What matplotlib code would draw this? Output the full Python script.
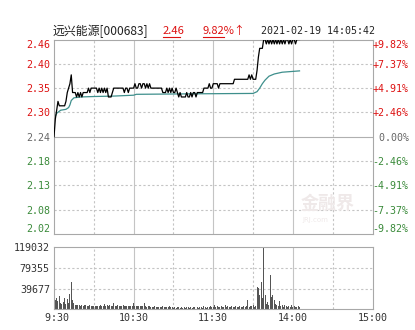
import numpy as np
import matplotlib.pyplot as plt
from matplotlib.lines import Line2D

plt.rcParams["font.family"] = ["DejaVu Sans Mono", "Noto Sans CJK SC"]

# ---- data ----
prev_close = 2.24
price_ticks = ["2.02", "2.08", "2.13", "2.18", "2.24", "2.30", "2.35", "2.40", "2.46"]
pct_ticks = ["-9.82%", "-7.37%", "-4.91%", "-2.46%", " 0.00%", "+2.46%", "+4.91%", "+7.37%", "+9.82%"]
time_labels = [" 9:30", "10:30", "11:30", "14:00", "15:00"]
vol_ticks = [39677, 79355, 119032]

# minute-by-minute last price (minute 0 = 9:30, 120 = 13:00)
price = [
    2.24, 2.28, 2.30, 2.32, 2.31, 2.31, 2.31, 2.31, 2.31, 2.32,
    2.34, 2.35, 2.36, 2.38, 2.34, 2.34, 2.34, 2.33, 2.34, 2.33,
    2.34, 2.33, 2.34, 2.34, 2.34, 2.34, 2.35, 2.34, 2.35, 2.35,
    2.35, 2.35, 2.35, 2.34, 2.35, 2.34, 2.35, 2.34, 2.35, 2.34,
    2.35, 2.33, 2.33, 2.33, 2.34, 2.35, 2.35, 2.35, 2.35, 2.35,
    2.35, 2.35, 2.35, 2.34, 2.35, 2.35, 2.34, 2.35, 2.35, 2.35,
    2.35, 2.36, 2.35, 2.35, 2.36, 2.36, 2.35, 2.36, 2.36, 2.35,
    2.36, 2.35, 2.36, 2.35, 2.35, 2.35, 2.35, 2.35, 2.35, 2.35,
    2.35, 2.35, 2.34, 2.34, 2.34, 2.35, 2.34, 2.35, 2.34, 2.35,
    2.34, 2.34, 2.35, 2.34, 2.33, 2.34, 2.33, 2.33, 2.33, 2.33,
    2.34, 2.33, 2.33, 2.34, 2.33, 2.34, 2.34, 2.33, 2.34, 2.34,
    2.34, 2.34, 2.34, 2.35, 2.35, 2.35, 2.35, 2.36, 2.35, 2.35,
    2.36, 2.36, 2.36, 2.36, 2.35, 2.36, 2.36, 2.36, 2.36, 2.36,
    2.36, 2.36, 2.36, 2.36, 2.36, 2.36, 2.37, 2.37, 2.37, 2.37,
    2.37, 2.37, 2.37, 2.37, 2.37, 2.37, 2.37, 2.38, 2.37, 2.38,
    2.37, 2.37, 2.37, 2.39, 2.42, 2.44, 2.44, 2.44, 2.46, 2.46,
    2.45, 2.46, 2.45, 2.46, 2.45, 2.46, 2.45, 2.46, 2.45, 2.46,
    2.45, 2.46, 2.45, 2.46, 2.45, 2.46, 2.46, 2.45, 2.46, 2.45,
    2.46, 2.46, 2.45, 2.46, 2.46, 2.46,
]

# average price line (minute, value)
avg_minutes = [0, 2, 5, 9, 11, 12, 13, 15, 20, 30, 45, 60, 62, 100, 150,
               153, 155, 157, 159, 162, 166, 172, 185]
avg_price = [2.280, 2.293, 2.300, 2.302, 2.306, 2.312, 2.322, 2.328, 2.330,
             2.331, 2.332, 2.334, 2.336, 2.337, 2.338, 2.342, 2.350, 2.360,
             2.368, 2.377, 2.382, 2.386, 2.389]

volume = [
    29000, 17000, 22000, 15000, 25000, 12000, 10000, 14000, 22000, 11000,
    19000, 12000, 30000, 53000, 18000, 12000, 8000, 9000, 9000, 8000,
    7000, 9000, 7000, 8000, 9000, 7000, 6000, 8000, 7000, 6000,
    7000, 6000, 6000, 7000, 6000, 8000, 6000, 7000, 10000, 6000,
    8000, 7000, 9000, 7000, 6000, 13000, 7000, 6000, 8000, 6000,
    7000, 6000, 8000, 6000, 7000, 6000, 6000, 7000, 6000, 6000,
    12000, 7000, 6000, 6000, 7000, 6000, 6000, 6000, 13000, 6000,
    5000, 6000, 7000, 5000, 4000, 5000, 6000, 5000, 4000, 5000,
    4000, 5000, 6000, 4000, 5000, 4000, 5000, 6000, 4000, 5000,
    3000, 4000, 3000, 4000, 5000, 3000, 4000, 3000, 4000, 3000,
    4000, 5000, 3000, 4000, 3000, 4000, 5000, 3000, 4000, 3000,
    4000, 5000, 3000, 7000, 4000, 3000, 5000, 4000, 6000, 4000,
    5000, 8000, 4000, 6000, 5000, 4000, 7000, 5000, 4000, 9000,
    5000, 6000, 4000, 5000, 6000, 5000, 4000, 6000, 5000, 4000,
    6000, 5000, 4000, 6000, 5000, 6000, 18000, 5000, 6000, 7000,
    8000, 5000, 6000, 42000, 41000, 27000, 53000, 22000, 119032, 27000,
    10000, 14000, 8000, 66000, 24000, 27000, 17000, 11000, 8000, 6000,
    15000, 6000, 8000, 5000, 9000, 6000, 4000, 7000, 5000, 8000,
    4000, 6000, 5000, 4000, 7000, 5000,
]

RED = "#dd1111"
GREEN = "#3a8a3a"
GRAY = "#666666"
GRID = "#c4c4c4"
W, H = 415, 330

fig = plt.figure(figsize=(4.15, 3.3), dpi=100, facecolor="white")
ax = fig.add_axes([54 / W, 1 - 234 / H, 318.5 / W, 194.5 / H])
axv = fig.add_axes([54 / W, 1 - 309.3 / H, 318.5 / W, 62 / H])

span = 0.22
levels = np.linspace(prev_close - span, prev_close + span, 9)

for a in (ax, axv):
    a.set_xlim(0, 240)
    for s in a.spines.values():
        s.set_color("#a8a8a8")
        s.set_linewidth(0.8)
    for m in (30, 60, 90, 120, 150, 180, 210):
        if m % 60 == 0:
            a.axvline(m, color=GRID, lw=0.8, zorder=0)
        else:
            a.axvline(m, color=GRID, lw=0.8, ls=(0, (2, 2)), zorder=0)

# price panel
ax.set_ylim(levels[0], levels[-1])
for i, lv in enumerate(levels[1:-1], start=1):
    if i == 4:
        ax.axhline(lv, color="#b0b0b0", lw=0.8, zorder=0)
    else:
        ax.axhline(lv, color=GRID, lw=0.8, ls=(0, (2, 2)), zorder=0)

minutes = np.arange(len(price))
ax.plot(minutes, price, color="black", lw=0.9, zorder=3)
ax.plot(avg_minutes, avg_price, color="#3e8f8c", lw=0.9, zorder=2)

ax.set_xticks([])
ax.set_yticks(levels)
ax.set_yticklabels(price_ticks, fontsize=7.2)
ax.tick_params(axis="y", length=0, pad=3)
ax2 = ax.twinx()
ax2.set_ylim(levels[0], levels[-1])
ax2.set_yticks(levels)
ax2.set_yticklabels(pct_ticks, fontsize=7.2)
ax2.tick_params(axis="y", length=0, pad=0)
for s in ax2.spines.values():
    s.set_visible(False)

for labels in (ax.get_yticklabels(), ax2.get_yticklabels()):
    for i, t in enumerate(labels):
        t.set_color(GREEN if i < 4 else (GRAY if i == 4 else RED))
    labels[0].set_va("bottom")
    labels[-1].set_va("top")

# watermark
ax.text(0.86, 0.16, "金融界", transform=ax.transAxes, fontsize=13, fontweight="bold",
        color="#efe9e9", ha="center", va="center", family=["Noto Sans CJK SC"], zorder=1)
ax.text(0.82, 0.07, "JRJ.com", transform=ax.transAxes, fontsize=5,
        color="#efe9e9", ha="center", va="center", family=["DejaVu Sans"], zorder=1)

# volume panel
axv.set_ylim(0, vol_ticks[-1])
for v in vol_ticks[:2]:
    axv.axhline(v, color=GRID, lw=0.8, ls=(0, (2, 2)), zorder=0)
axv.bar(minutes, volume, width=0.75, color="#555555", zorder=2)
axv.set_yticks(vol_ticks)
axv.set_yticklabels([str(v) for v in vol_ticks], fontsize=7.2, color="#333333")
axv.set_xticks([0, 60, 120, 180, 240])
axv.set_xticklabels(time_labels, fontsize=7.2, color="#333333")
axv.tick_params(length=0, pad=3)

# header line
ty = 1 - 31 / H
fig.text(53 / W, ty, "远兴能源[000683]", fontsize=8.6, color="#222222", va="center",
         family=["Noto Sans CJK SC"])
fig.text(163 / W, ty, "2.46", fontsize=8, color=RED, va="center", family=["Noto Sans CJK SC"])
fig.text(202 / W, ty, "9.82%↑", fontsize=8, color=RED, va="center", family=["Noto Sans CJK SC"])
fig.add_artist(Line2D([163 / W, 180 / W], [1 - 36.5 / H] * 2, color=RED, lw=0.8))
fig.add_artist(Line2D([203 / W, 224 / W], [1 - 36.5 / H] * 2, color=RED, lw=0.8))
fig.text(261 / W, ty, "2021-02-19 14:05:42", fontsize=7.2, color="#222222", va="center")

fig.savefig("out.png", dpi=100, facecolor="white")
